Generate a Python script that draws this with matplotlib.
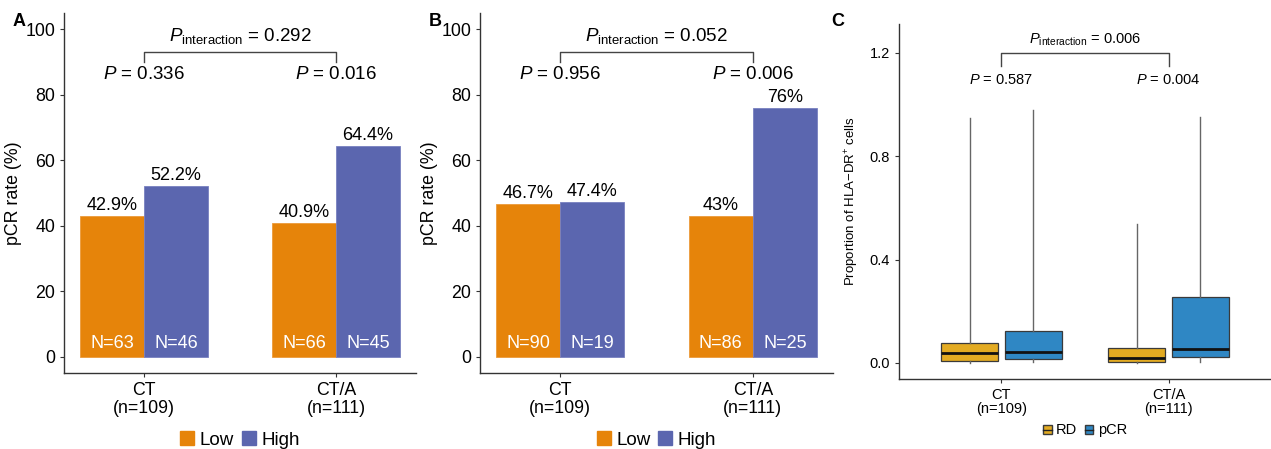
import matplotlib.pyplot as plt
import numpy as np
from matplotlib.patches import Patch
from matplotlib.lines import Line2D

plt.rcParams['font.family'] = ['Liberation Sans', 'DejaVu Sans']
plt.rcParams['mathtext.fontset'] = 'custom'
plt.rcParams['mathtext.rm'] = 'Liberation Sans'
plt.rcParams['mathtext.it'] = 'Liberation Sans:italic'

# data
groups = ['CT\n(n=109)', 'CT/A\n(n=111)']
a_low = [42.9, 40.9]
a_high = [52.2, 64.4]
a_low_lbl = ['42.9%', '40.9%']
a_high_lbl = ['52.2%', '64.4%']
a_low_n = [63, 66]
a_high_n = [46, 45]
a_p = ['0.336', '0.016']
a_pint = '0.292'

b_low = [46.7, 43.0]
b_high = [47.4, 76.0]
b_low_lbl = ['46.7%', '43%']
b_high_lbl = ['47.4%', '76%']
b_low_n = [90, 86]
b_high_n = [19, 25]
b_p = ['0.956', '0.006']
b_pint = '0.052'

# boxplot stats for panel C: whislo, q1, med, q3, whishi
rd_stats = [[0.0, 0.009, 0.037, 0.076, 0.947],
            [0.0, 0.004, 0.021, 0.058, 0.538]]
pcr_stats = [[0.002, 0.015, 0.044, 0.124, 0.979],
             [0.002, 0.023, 0.053, 0.254, 0.954]]
c_p = ['0.587', '0.004']
c_pint = '0.006'

c_low = '#E6840A'
c_high = '#5B66AF'
c_rd = '#E3AB22'
c_pcr = '#2F87C4'

fig = plt.figure(figsize=(12.71, 4.49), dpi=100)


def style_axes(ax, fs):
    for s in ['top', 'right']:
        ax.spines[s].set_visible(False)
    for s in ['left', 'bottom']:
        ax.spines[s].set_color('#333333')
        ax.spines[s].set_linewidth(1.0)
    ax.tick_params(colors='#333333', labelcolor='black', labelsize=fs,
                   length=3, width=0.8)


def bar_panel(rect, low, high, low_lbl, high_lbl, low_n, high_n, pvals, pint):
    ax = fig.add_axes(rect)
    x = np.arange(1, len(groups) + 1)
    w = 1 / 3
    ax.bar(x - w / 2, low, w, color=c_low, edgecolor='#EC9A3A', linewidth=0.6)
    ax.bar(x + w / 2, high, w, color=c_high, edgecolor='#7880C0', linewidth=0.6)
    for i in range(len(x)):
        ax.text(x[i] - w / 2, low[i] + 0.6, low_lbl[i], ha='center', va='bottom', fontsize=13)
        ax.text(x[i] + w / 2, high[i] + 0.6, high_lbl[i], ha='center', va='bottom', fontsize=13)
        ax.text(x[i] - w / 2, 4, f'N={low_n[i]}', ha='center', va='center', fontsize=13, color='white')
        ax.text(x[i] + w / 2, 4, f'N={high_n[i]}', ha='center', va='center', fontsize=13, color='white')
        ax.text(x[i], 86, f'$P$ = {pvals[i]}', ha='center', va='center', fontsize=13.5)
    ax.plot([x[0], x[0], x[1], x[1]], [90, 93, 93, 90], color='#444444', lw=1.0)
    ax.text(x.mean(), 97.8, r'$P_{\mathrm{interaction}}$' + f' = {pint}', ha='center',
            va='center', fontsize=13.5)
    ax.set_xlim(1 - 0.4167, 2 + 0.4167)
    ax.set_ylim(-4.9, 104.9)
    ax.set_yticks([0, 20, 40, 60, 80, 100])
    ax.set_xticks(x)
    ax.set_xticklabels(groups, linespacing=1.05)
    ax.set_ylabel('pCR rate (%)', fontsize=12.8, labelpad=2)
    style_axes(ax, 12.8)
    handles = [Patch(facecolor=c_low, edgecolor=c_low), Patch(facecolor=c_high, edgecolor=c_high)]
    ax.legend(handles, ['Low', 'High'], loc='center', bbox_to_anchor=(0.5, -0.186), ncol=2,
              frameon=False, fontsize=13.5, handlelength=0.75, handleheight=0.75,
              handletextpad=0.3, columnspacing=0.4)
    return ax


axA = bar_panel([0.0504, 0.1693, 0.2769, 0.8017], a_low, a_high, a_low_lbl, a_high_lbl,
                a_low_n, a_high_n, a_p, a_pint)
axB = bar_panel([0.3777, 0.1693, 0.2777, 0.8017], b_low, b_high, b_low_lbl, b_high_lbl,
                b_low_n, b_high_n, b_p, b_pint)

# panel C
axC = fig.add_axes([0.7073, 0.156, 0.2927, 0.7905])
xc = np.arange(1, len(groups) + 1)
off = 0.19
bw = 0.34


def to_stats(s):
    return dict(whislo=s[0], q1=s[1], med=s[2], q3=s[3], whishi=s[4], fliers=[])


for stats, dx, col in [(rd_stats, -off, c_rd), (pcr_stats, off, c_pcr)]:
    axC.bxp([to_stats(s) for s in stats], positions=xc + dx, widths=bw, patch_artist=True,
            showfliers=False, showcaps=False,
            boxprops=dict(facecolor=col, edgecolor='#3a3a3a', linewidth=0.9),
            medianprops=dict(color='#111111', linewidth=2.0),
            whiskerprops=dict(color='#666666', linewidth=1.0))

for i in range(len(xc)):
    axC.text(xc[i], 1.096, f'$P$ = {c_p[i]}', ha='center', va='center', fontsize=10.5)
axC.plot([xc[0], xc[0], xc[1], xc[1]], [1.15, 1.2, 1.2, 1.15], color='#444444', lw=1.0)
axC.text(xc.mean(), 1.25, r'$P_{\mathrm{interaction}}$' + f' = {c_pint}', ha='center',
         va='center', fontsize=10.5)
axC.set_xlim(1 - 0.613, 2 + 0.613)
axC.set_ylim(-0.062, 1.312)
axC.set_yticks([0.0, 0.4, 0.8, 1.2])
axC.set_yticklabels(['0.0', '0.4', '0.8', '1.2'])
axC.set_xticks(xc)
axC.set_xticklabels(groups, linespacing=1.0)
axC.set_ylabel(r'Proportion of HLA$-$DR$^{+}$ cells', fontsize=9.5, labelpad=6)
style_axes(axC, 10.5)
handles = [(Patch(facecolor=c_rd, edgecolor='#3a3a3a'), Line2D([], [], color='#222222', lw=1.0)),
           (Patch(facecolor=c_pcr, edgecolor='#3a3a3a'), Line2D([], [], color='#222222', lw=1.0))]
axC.legend(handles, ['RD', 'pCR'], loc='center', bbox_to_anchor=(0.5, -0.145), ncol=2,
           frameon=False, fontsize=10.5, handlelength=0.6, handleheight=0.6,
           handletextpad=0.3, columnspacing=0.5)

# panel letters
for lx, letter in [(19, 'A'), (435, 'B'), (838, 'C')]:
    fig.text(lx / 1271, 1 - 21 / 449, letter, fontsize=13, fontweight='bold',
             ha='center', va='center')

fig.savefig('out.png', dpi=100)
